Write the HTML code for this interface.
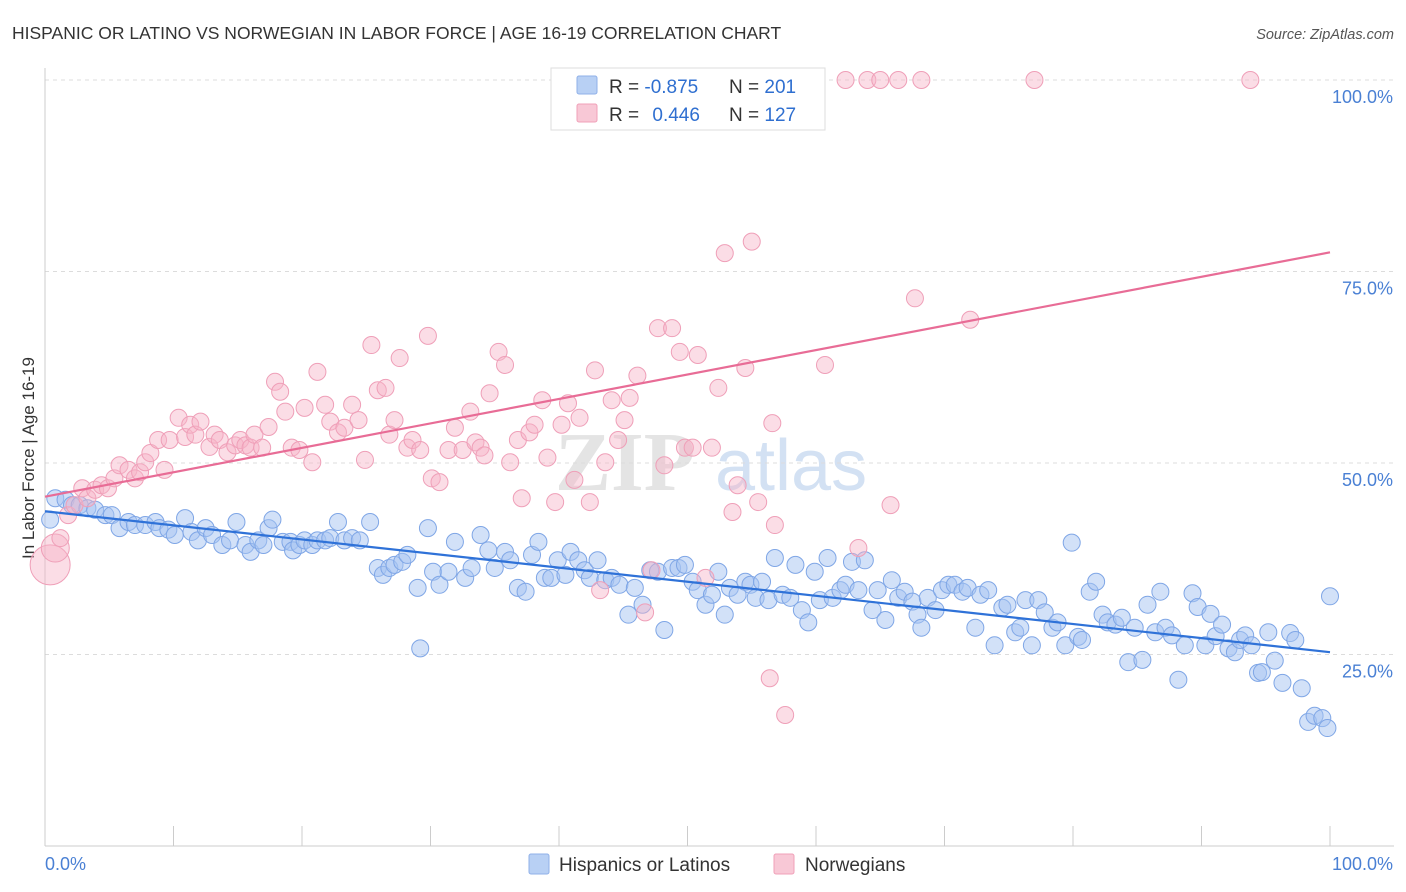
<!DOCTYPE html>
<html><head><meta charset="utf-8">
<style>
body{margin:0;background:#fff;font-family:"Liberation Sans",sans-serif;}
#wrap{position:relative;width:1406px;height:892px;overflow:hidden;}
</style></head>
<body>
<div id="wrap">
<svg id="chart" width="1406" height="892">
  <text x="12" y="39" font-size="17.5" fill="#333">HISPANIC OR LATINO VS NORWEGIAN IN LABOR FORCE | AGE 16-19 CORRELATION CHART</text>
  <text x="1394" y="39" font-size="14.5" fill="#555" font-style="italic" text-anchor="end">Source: ZipAtlas.com</text>
  <text transform="translate(34,458) rotate(-90)" font-size="17" fill="#333" text-anchor="middle">In Labor Force | Age 16-19</text>
  <g>
    <text x="555" y="490" font-size="84" fill="#e4e4e4" font-family="Liberation Serif,serif" font-weight="bold">ZIP</text>
    <text x="715" y="490" font-size="72" fill="#d3e1f3">atlas</text>
  </g>
  <g id="grid"></g>
  <g id="axes"></g>
  <g id="pts"></g>
  <g id="trend"></g>
  <g>
    <rect x="551" y="68" width="274" height="62" fill="#fff" stroke="#ddd"/>
    <rect x="577" y="76" width="20" height="18" fill="#b8d0f4" stroke="#8fb0e8" rx="2"/>
    <rect x="577" y="104" width="20" height="18" fill="#f8c8d6" stroke="#f0a0b8" rx="2"/>
    <text x="609" y="93" font-size="19" fill="#333">R = <tspan fill="#2f6fd0">-0.875</tspan></text>
    <text x="729" y="93" font-size="19" fill="#333">N = <tspan fill="#2f6fd0">201</tspan></text>
    <text x="609" y="121" font-size="19" fill="#333">R = <tspan fill="#2f6fd0" dx="8">0.446</tspan></text>
    <text x="729" y="121" font-size="19" fill="#333">N = <tspan fill="#2f6fd0">127</tspan></text>
  </g>
  <g>
    <rect x="529" y="854" width="20" height="20" fill="#b8d0f4" stroke="#8fb0e8" rx="2"/>
    <text x="559" y="871" font-size="19" fill="#333">Hispanics or Latinos</text>
    <rect x="774" y="854" width="20" height="20" fill="#f8c8d6" stroke="#f0a0b8" rx="2"/>
    <text x="805" y="871" font-size="19" fill="#333">Norwegians</text>
  </g>
</svg>
</div>
<script>
const blueX=[0.4,0.8,1.6,2.1,2.7,3.3,3.9,4.7,5.2,5.8,6.5,7.0,7.8,8.6,8.9,9.6,10.1,10.9,11.4,11.9,12.5,13.0,13.8,14.4,14.9,15.6,16.0,16.6,17.0,17.4,17.7,18.5,19.1,19.3,19.8,20.2,20.8,21.2,21.8,22.2,22.8,23.3,23.9,24.5,25.3,25.9,26.3,26.8,27.2,27.8,28.2,29.0,29.8,30.2,30.7,31.4,31.9,32.7,33.2,33.9,34.5,35.0,35.8,36.2,36.8,37.4,37.9,38.4,38.9,39.4,39.9,40.5,40.9,41.5,42.0,42.4,43.0,43.6,44.1,44.7,45.4,45.9,46.5,47.1,47.7,48.2,48.8,49.3,49.8,50.4,50.8,51.4,51.9,52.4,52.9,53.3,53.9,54.5,54.9,55.3,55.8,56.3,56.8,57.4,58.0,58.4,58.9,59.4,59.9,60.3,60.9,61.3,61.9,62.3,62.8,63.3,63.8,64.4,64.8,65.4,65.9,66.4,66.9,67.5,67.9,68.2,68.7,69.3,69.8,70.3,70.8,71.4,71.8,72.4,72.8,73.4,73.9,74.5,74.9,75.5,75.9,76.3,76.8,77.3,77.8,78.4,78.8,79.4,79.9,80.4,80.7,81.3,81.8,82.3,82.7,83.3,83.8,84.3,84.8,85.4,85.8,86.4,86.8,87.2,87.7,88.2,88.7,89.3,89.7,90.3,90.7,91.1,91.6,92.1,92.6,93.0,93.4,93.9,94.4,94.7,95.2,95.7,96.3,96.9,97.3,97.8,98.3,98.8,99.4,99.8,100,29.2];
const blueY=[42.6,45.4,45.2,44.5,44.5,44.1,43.9,43.2,43.2,41.5,42.3,41.9,41.9,42.3,41.5,41.3,40.6,42.8,41.0,39.9,41.5,40.6,39.3,39.9,42.3,39.3,38.4,39.9,39.3,41.5,42.6,39.7,39.7,38.6,39.3,39.9,39.3,39.9,39.9,40.2,42.3,39.9,40.2,39.9,42.3,36.3,35.4,36.3,36.7,37.1,38.0,33.7,41.5,35.8,34.1,35.8,39.7,35.0,36.3,40.6,38.6,36.3,38.4,37.3,33.7,33.2,38.0,39.7,35.0,35.0,37.3,35.4,38.4,37.3,36.0,35.0,37.3,34.7,35.0,34.1,30.2,33.7,31.5,36.0,35.8,28.2,36.3,36.3,36.7,34.5,33.4,31.5,32.8,35.8,30.2,33.7,32.8,34.5,34.1,32.4,34.5,32.1,37.6,32.8,32.4,36.7,30.8,29.2,35.8,32.1,37.6,32.4,33.4,34.1,37.1,33.4,37.3,30.8,33.4,29.5,34.7,32.4,33.2,31.9,30.2,28.5,32.4,30.8,33.4,34.1,34.1,33.2,33.7,28.5,32.8,33.4,26.2,31.1,31.5,27.9,28.5,32.1,26.2,32.1,30.5,28.5,29.2,26.2,39.6,27.3,26.9,33.2,34.5,30.2,29.2,28.9,29.8,24.0,28.5,24.3,31.5,27.9,33.2,28.5,27.5,21.7,26.2,33.0,31.2,26.2,30.3,27.4,28.9,25.8,25.3,26.9,27.5,26.2,22.6,22.7,27.9,24.2,21.3,27.8,26.9,20.6,16.2,17.0,16.7,15.4,32.6,25.8];
const pinkX=[0.4,0.8,1.2,1.8,2.3,2.9,3.3,3.9,4.4,4.9,5.4,5.8,6.5,7.0,7.4,7.8,8.2,8.8,9.3,9.7,10.4,10.9,11.3,11.7,12.1,12.8,13.2,13.6,14.2,14.8,15.2,15.6,16.0,16.3,16.9,17.4,17.9,18.3,18.7,19.2,19.8,20.2,20.8,21.2,21.8,22.2,22.8,23.3,23.9,24.4,24.9,25.4,25.9,26.5,26.8,27.2,27.6,28.2,28.6,29.2,29.8,30.1,30.7,31.4,31.9,32.5,33.1,33.5,33.9,34.2,34.6,35.3,35.8,36.2,36.8,37.1,37.7,38.1,38.7,39.1,39.7,40.2,40.7,41.2,41.6,42.4,42.8,43.2,43.6,44.1,44.6,45.1,45.5,46.1,46.7,47.2,47.7,48.2,48.8,49.4,49.8,50.4,50.8,51.4,51.9,52.4,52.9,53.5,53.9,54.5,55.0,55.5,56.6,56.8,57.6,56.4,60.7,63.3,65.8,67.7,72.0,62.3,64.0,65.0,66.4,68.2,77.0,93.8];
const pinkY=[36.7,38.9,40.2,43.2,44.5,46.7,45.4,46.5,47.1,46.7,48.0,49.7,49.1,48.0,48.8,50.1,51.3,53.0,49.1,53.0,55.9,53.4,55.0,53.7,55.4,52.1,53.7,53.0,51.4,52.3,53.0,52.3,52.0,53.7,52.0,54.7,60.6,59.3,56.7,52.0,51.7,57.2,50.1,61.9,57.6,55.4,54.0,54.6,57.6,55.6,50.4,65.4,59.5,59.8,53.7,55.6,63.7,52.0,53.0,51.7,66.6,48.0,47.5,51.7,54.6,51.7,56.7,52.7,52.0,51.0,59.1,64.5,62.8,50.1,53.0,45.4,54.0,55.0,58.2,50.7,44.9,55.0,57.8,47.8,55.9,44.9,62.1,33.4,50.1,58.2,53.0,55.6,58.5,61.4,30.5,36.0,67.6,49.7,67.6,64.5,52.0,52.0,64.1,35.0,52.0,59.8,77.4,43.6,47.1,62.4,78.9,44.9,55.2,41.9,17.1,21.9,62.8,38.9,44.5,71.5,68.7,100,100,100,100,100,100,100];
const pinkR=[20,14];
const trendBlue=[43.7,25.3];
const trendPink=[45.6,77.5];
const yTicks=[100,75,50,25];
const yTickLabels=["100.0%","75.0%","50.0%","25.0%"];
const xTicks=[0,10,20,30,40,50,60,70,80,90,100];
const xTickLabels=["0.0%","100.0%"];

const NS="http://www.w3.org/2000/svg";
const X0=45,X1=1330,Y0=846,Y100=80;
const sx=v=>X0+(X1-X0)*v/100;
const sy=v=>Y0-(Y0-Y100)*v/100;
function mk(tag,attrs,parent){const e=document.createElementNS(NS,tag);for(const k in attrs)e.setAttribute(k,attrs[k]);parent.appendChild(e);return e;}
const grid=document.getElementById('grid'),axes=document.getElementById('axes'),pts=document.getElementById('pts'),trend=document.getElementById('trend');
yTicks.forEach((t,i)=>{
  const l=mk('line',{x1:X0,x2:1394,y1:sy(t),y2:sy(t),stroke:'#dcdcdc','stroke-dasharray':'4,4'},grid);
  
  
  const tx=mk('text',{x:1393,y:sy(t)+23,'font-size':18,fill:'#4a80d4','text-anchor':'end'},axes);
  tx.textContent=yTickLabels[i];
  
  
});
const ax=mk('line',{x1:X0,x2:X0,y1:68,y2:Y0,stroke:'#ccc'},axes);


const bx=mk('line',{x1:X0,x2:1394,y1:Y0,y2:Y0,stroke:'#ccc'},axes);


xTicks.forEach(t=>{
  const l=mk('line',{x1:sx(t),x2:sx(t),y1:826,y2:Y0,stroke:'#ccc'},axes);
  
  
});
const xl0=mk('text',{x:45,y:870,'font-size':18,fill:'#4a80d4'},axes);
xl0.textContent=xTickLabels[0];


const xl1=mk('text',{x:1393,y:870,'font-size':18,fill:'#4a80d4','text-anchor':'end'},axes);
xl1.textContent=xTickLabels[1];



blueX.forEach((v,i)=>{
  const c=mk('circle',{cx:sx(v),cy:sy(blueY[i]),r:8.5,fill:'rgba(165,195,242,0.5)',stroke:'#7fa6e6','stroke-width':1},pts);
  
  
});
pinkX.forEach((v,i)=>{
  const c=mk('circle',{cx:sx(v),cy:sy(pinkY[i]),r:(pinkR[i]||8.5),fill:'rgba(246,180,200,0.45)',stroke:'#ef9fb8','stroke-width':1},pts);
  
  
});
const tb=mk('line',{x1:sx(0),y1:sy(trendBlue[0]),x2:sx(100),y2:sy(trendBlue[1]),stroke:'#2f72d8','stroke-width':2.2},trend);


const tp=mk('line',{x1:sx(0),y1:sy(trendPink[0]),x2:sx(100),y2:sy(trendPink[1]),stroke:'#e86c96','stroke-width':2.2},trend);


</script>
</body></html>
